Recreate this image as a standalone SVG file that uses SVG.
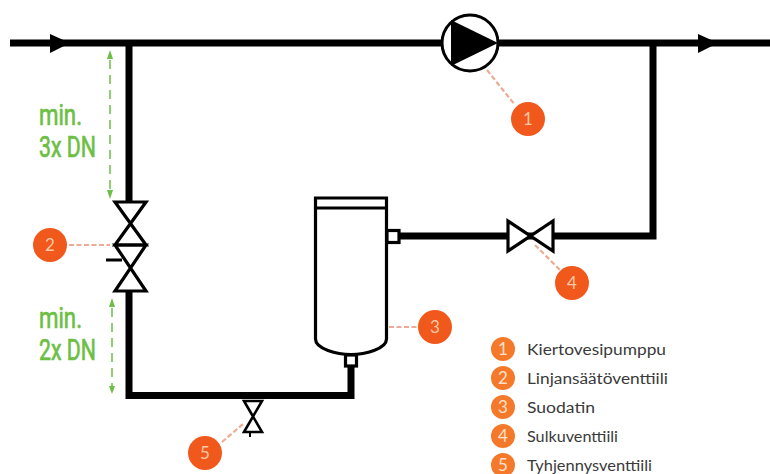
<svg xmlns="http://www.w3.org/2000/svg" width="770" height="474" viewBox="0 0 770 474">
<style>
.pipe{fill:none;stroke:#000;stroke-width:7}
.sym{fill:#fff;stroke:#000;stroke-width:3.2;stroke-linejoin:miter}
.lead{fill:none;stroke:#ecab92;stroke-width:2.2;stroke-dasharray:5 2.500}
.dim{fill:none;stroke:#6cbf44;stroke-width:1.5;stroke-dasharray:9 6}
.hd{fill:#6cbf44}
.badge{fill:#f1581c}
.badge2{fill:#f5792a}
.num{font-family:"Lato","Liberation Sans",sans-serif;font-size:17px;fill:#f9c9a8;text-anchor:middle}
.num2{font-family:"Lato","Liberation Sans",sans-serif;font-size:17px;fill:#fce0cc;text-anchor:middle}
.green{font-family:"Roboto","Liberation Sans",sans-serif;font-size:29px;fill:#6cbf44;stroke:#6cbf44;stroke-width:.7}
.leg{font-family:"Lato","Liberation Sans",sans-serif;font-size:15.500px;fill:#3a3a3a}
</style>
<rect width="770" height="474" fill="#fff"/>
<g id="connectors">
<path class="pipe" d="M10 43H770"/>
<path class="pipe" d="M129 43V201"/>
<path class="pipe" d="M129 291V395.500H351V366"/>
<path class="pipe" d="M400 236H653V43"/>
<polygon points="50,34 70,43 50,53"/>
<polygon points="698,34 718,43 698,53"/>
<path class="lead" d="M487 70L515 105"/>
<path class="lead" d="M69 245H110"/>
<path class="lead" d="M389 327H417"/>
<path class="lead" d="M535 245L560 270"/>
<path class="lead" d="M222 442L243 424"/>
<path class="dim" d="M110 60V190"/>
<polygon class="hd" points="110,50 107,59 113,59"/>
<polygon class="hd" points="110,199 107,190 113,190"/>
<path class="dim" d="M112 308V386"/>
<polygon class="hd" points="112,298 109,307 115,307"/>
<polygon class="hd" points="112,394 109,386 115,386"/>
</g>
<g id="pump">
<circle cx="470" cy="43" r="28" fill="#fff" stroke="#000" stroke-width="3"/>
<polygon points="451,20 498,43 451,66"/>
</g>
<g id="valve-balancing">
<path class="sym" d="M115 202H146L115 245H146ZM115 291H146L115 245H146Z"/>
<path d="M115 245H146" stroke="#000" stroke-width="3"/>
<path d="M106 260H122" stroke="#000" stroke-width="3"/>
</g>
<g id="filter">
<path class="sym" d="M315.500 198H386.500V339C386.500 349 365 354.500 351 354.500C337 354.500 315.500 349 315.500 339Z"/>
<path d="M315 208H387" stroke="#000" stroke-width="3"/>
<rect class="sym" x="387" y="230.500" width="12" height="12"/>
<rect class="sym" x="345.500" y="355" width="11" height="11"/>
</g>
<g id="valve-shutoff">
<path class="sym" d="M508 221V251L553 221V251Z"/>
</g>
<g id="valve-drain">
<path class="sym" style="stroke-width:2.600" d="M244 401H262L244 432H262Z"/>
<path d="M250 433V437" stroke="#000" stroke-width="2"/>
</g>
<g id="badge-1"><circle class="badge" cx="528" cy="119" r="17"/><text class="num" x="528" y="125">1</text></g>
<g id="badge-2"><circle class="badge" cx="50" cy="245" r="17"/><text class="num" x="50" y="251">2</text></g>
<g id="badge-3"><circle class="badge" cx="435" cy="327" r="17"/><text class="num" x="435" y="333">3</text></g>
<g id="badge-4"><circle class="badge" cx="572" cy="283" r="17"/><text class="num" x="572" y="289">4</text></g>
<g id="badge-5"><circle class="badge" cx="205" cy="453" r="17"/><text class="num" x="205" y="459">5</text></g>
<g id="labels-green">
<text class="green" x="39" y="125" textLength="43" lengthAdjust="spacingAndGlyphs">min.</text>
<text class="green" x="39" y="157" textLength="57" lengthAdjust="spacingAndGlyphs">3x DN</text>
<text class="green" x="39" y="328" textLength="43" lengthAdjust="spacingAndGlyphs">min.</text>
<text class="green" x="39" y="360" textLength="57" lengthAdjust="spacingAndGlyphs">2x DN</text>
</g>
<g id="legend">
<circle class="badge2" cx="503" cy="349" r="12"/><text class="num2" x="503" y="355">1</text><text class="leg" x="527" y="355" textLength="139" lengthAdjust="spacingAndGlyphs">Kiertovesipumppu</text>
<circle class="badge2" cx="503" cy="378" r="12"/><text class="num2" x="503" y="384">2</text><text class="leg" x="527" y="384" textLength="141" lengthAdjust="spacingAndGlyphs">Linjansäätöventtiili</text>
<circle class="badge2" cx="503" cy="407" r="12"/><text class="num2" x="503" y="413">3</text><text class="leg" x="527" y="413" textLength="68" lengthAdjust="spacingAndGlyphs">Suodatin</text>
<circle class="badge2" cx="503" cy="436" r="12"/><text class="num2" x="503" y="442">4</text><text class="leg" x="527" y="442" textLength="91" lengthAdjust="spacingAndGlyphs">Sulkuventtiili</text>
<circle class="badge2" cx="503" cy="465" r="12"/><text class="num2" x="503" y="471">5</text><text class="leg" x="527" y="471" textLength="125" lengthAdjust="spacingAndGlyphs">Tyhjennysventtiili</text>
</g>
</svg>
